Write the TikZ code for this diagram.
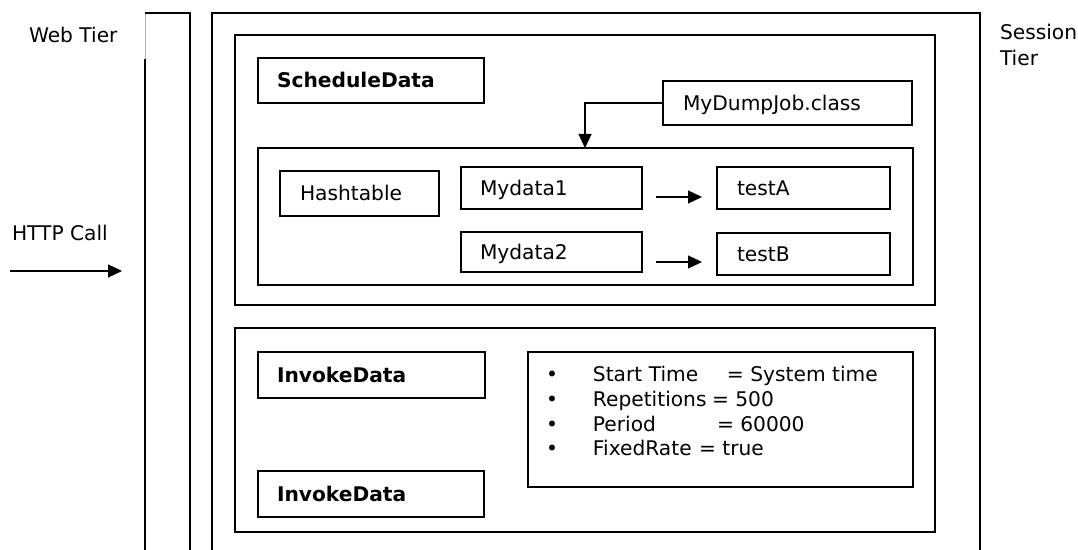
\documentclass[tikz,border=0pt]{standalone}
\usepackage{fontspec}
\setmainfont{DejaVu Sans}
\usetikzlibrary{arrows.meta}

\begin{document}
\begin{tikzpicture}[x=1bp, y=-1bp, line width=1.2bp,
  every node/.style={font=\fontsize{20.2bp}{24bp}\selectfont, inner sep=0pt, outer sep=0pt},
  frame/.style={draw, anchor=north west},
  tbox/.style={draw, anchor=north west, align=left, inner xsep=19bp,
               text height=14.7bp, text depth=0bp},
  boldtext/.style={font=\fontsize{20.2bp}{24bp}\selectfont\bfseries},
  label/.style={anchor=base west},
  arr/.style={-{Triangle[length=14bp, width=13bp]}, line width=1.2bp}]

\useasboundingbox (0,0) rectangle (1078,550);

% Web tier column
\draw (145,550) -- (145,59);
\draw[gray!60, line width=0.5bp] (145,13) -- (145,59);
\draw (145,13) -- (190,13) -- (190,550);

% Session tier column (open at the bottom)
\draw (212,550) |- (980,13) -- (980,550);

% Tier labels
\node[label] (webtier) at (29,43) {Web Tier};
\node[label] (sess1) at (1000,40) {Session};
\node[label] (sess2) at (1000,66) {Tier};
\node[label] (http) at (12,241) {HTTP Call};

% HTTP call arrow
\coordinate (httpA) at (10,271);
\coordinate (httpB) at (122,271);
\draw[arr] (httpA) -- (httpB);

% Upper panel: scheduled data
\node[frame, minimum width=700bp, minimum height=270bp] (panelA) at (235,35) {};
\node[tbox, boldtext, text width=188bp, minimum height=45bp] (sched) at (258,58) {ScheduleData};
\node[tbox, inner xsep=20bp, text width=209bp, minimum height=44bp] (mdj) at (663,81) {MyDumpJob.class};

\node[frame, minimum width=655bp, minimum height=137bp] (inner) at (258,148) {};
\node[tbox, inner xsep=20bp, text width=119bp, minimum height=45bp] (hash) at (280,171) {Hashtable};
\node[tbox, text width=143bp, minimum height=42bp] (md1) at (461,167) {Mydata1};
\node[tbox, text width=143bp, minimum height=40bp] (md2) at (461,232) {Mydata2};
\node[tbox, inner xsep=20bp, text width=133bp, minimum height=42bp] (ta) at (717,167) {testA};
\node[tbox, inner xsep=20bp, text width=133bp, minimum height=42bp] (tb) at (717,233) {testB};

\coordinate (drop) at (585,148);
\draw[arr] (mdj.west) -| (drop);
\draw[arr, shorten <=14bp, shorten >=15bp] ([yshift=-9bp]md1.east) -- ([yshift=-9bp]md1.east -| ta.west);
\draw[arr, shorten <=14bp, shorten >=15bp] ([yshift=-10bp]md2.east) -- ([yshift=-10bp]md2.east -| tb.west);

% Lower panel: invocation data
\node[frame, minimum width=700bp, minimum height=204bp] (panelB) at (235,328) {};
\node[tbox, boldtext, text width=189bp, minimum height=46bp] (inv1) at (258,352) {InvokeData};
\node[tbox, boldtext, text width=188bp, minimum height=46bp] (inv2) at (258,471) {InvokeData};

\node[frame, minimum width=385bp, minimum height=135bp] (params) at (528,352) {};
\node[label] (p1) at (546,382) {\makebox[47bp][l]{\textbullet}\makebox[134bp][l]{Start Time}= System time};
\node[label] (p2) at (546,406.5) {\makebox[47bp][l]{\textbullet}\makebox[119bp][l]{Repetitions}= 500};
\node[label] (p3) at (546,431) {\makebox[47bp][l]{\textbullet}\makebox[124bp][l]{Period}= 60000};
\node[label] (p4) at (546,455.5) {\makebox[47bp][l]{\textbullet}\makebox[106bp][l]{FixedRate}= true};

\end{tikzpicture}
\end{document}
